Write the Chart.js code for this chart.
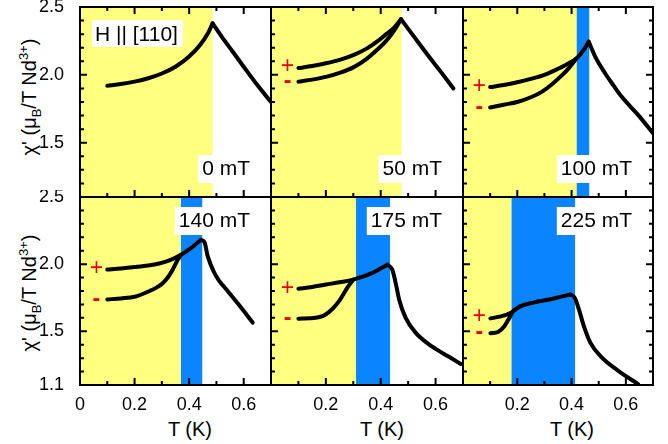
<!DOCTYPE html>
<html>
<head>
<meta charset="utf-8">
<script src="https://cdn.jsdelivr.net/npm/chart.js@4.4.1/dist/chart.umd.min.js"></script>
<style>
body { margin: 0; background: #fff; }
#fig { position: relative; width: 668px; height: 444px; overflow: hidden; font-family: "Liberation Sans", Arial, sans-serif; color: #000; }
#fig canvas { position: absolute; }
.ytitle { position: absolute; font-size: 20px; line-height: 1; white-space: nowrap; transform: translate(-50%, -50%) rotate(-90deg); }
.ytitle sub, .ytitle sup { font-size: 13px; line-height: 0; }
.xtitle { position: absolute; font-size: 20px; line-height: 1; white-space: nowrap; transform: translate(-50%, -50%); }
</style>
</head>
<body>
<div id="fig">
	<div class="ytitle" style="left:29px; top:97px">χ' (μ<sub>B</sub>/T Nd<sup>3+</sup>)</div>
	<div class="ytitle" style="left:29px; top:293px">χ' (μ<sub>B</sub>/T Nd<sup>3+</sup>)</div>
	<div class="xtitle" style="left:190px; top:429px">T (K)</div>
	<div class="xtitle" style="left:382px; top:429px">T (K)</div>
	<div class="xtitle" style="left:572px; top:429px">T (K)</div>
</div>
<script>
const fields = ['0 mT', '50 mT', '100 mT', '140 mT', '175 mT', '225 mT']
// phase regions in K: yellow from 0 to yellowEnd, blue from yellowEnd to blueEnd
const yellowEnd = [0.486, 0.476, 0.419, 0.370, 0.310, 0.179]
const blueEnd = [null, null, 0.465, 0.448, 0.434, 0.413]
const xLabels = [0, 0.2, 0.4, 0.6]
const yLabels = [1.1, 1.5, 2.0, 2.5]

// chi' vs T, pairs [T (K), chi'], "+" branch (full curve) and "-" branch (until it joins)
const up0 = [[0.10,1.92],[0.15,1.932],[0.20,1.95],[0.25,1.975],[0.30,2.01],[0.35,2.06],[0.40,2.135],[0.44,2.22],[0.47,2.31],[0.486,2.38],[0.52,2.28],[0.56,2.17],[0.60,2.06],[0.65,1.925],[0.70,1.80]]
const up50 = [[0.10,2.05],[0.15,2.065],[0.20,2.085],[0.25,2.11],[0.30,2.145],[0.35,2.195],[0.39,2.25],[0.42,2.30],[0.45,2.35],[0.474,2.41],[0.52,2.285],[0.57,2.15],[0.62,2.02],[0.665,1.90]]
const dn50 = [[0.10,1.95],[0.15,1.965],[0.20,1.985],[0.25,2.015],[0.30,2.055],[0.35,2.12],[0.39,2.19],[0.42,2.25],[0.45,2.33],[0.474,2.41]]
const up100 = [[0.10,1.91],[0.15,1.925],[0.20,1.945],[0.25,1.97],[0.30,2.00],[0.34,2.035],[0.38,2.075],[0.42,2.125],[0.445,2.185],[0.463,2.245],[0.487,2.135],[0.524,2.01],[0.555,1.92],[0.584,1.84],[0.645,1.705],[0.70,1.57]]
const dn100 = [[0.10,1.76],[0.15,1.78],[0.20,1.80],[0.25,1.835],[0.29,1.875],[0.33,1.935],[0.366,2.00],[0.39,2.05],[0.418,2.12]]
const up140 = [[0.10,1.96],[0.15,1.968],[0.20,1.978],[0.25,1.99],[0.29,2.005],[0.33,2.03],[0.37,2.07],[0.40,2.11],[0.443,2.18],[0.456,2.165],[0.468,2.06],[0.49,1.945],[0.51,1.875],[0.535,1.815],[0.583,1.695],[0.633,1.565]]
const dn140 = [[0.10,1.737],[0.15,1.745],[0.20,1.757],[0.255,1.80],[0.28,1.825],[0.304,1.86],[0.325,1.91],[0.34,1.96],[0.355,2.02],[0.37,2.07]]
const up175 = [[0.10,1.816],[0.15,1.83],[0.20,1.848],[0.25,1.865],[0.30,1.885],[0.37,1.935],[0.424,1.996],[0.442,1.96],[0.457,1.836],[0.467,1.737],[0.491,1.60],[0.527,1.49],[0.588,1.385],[0.649,1.31],[0.692,1.256]]
const dn175 = [[0.10,1.594],[0.163,1.60],[0.19,1.615],[0.211,1.643],[0.23,1.68],[0.248,1.724],[0.265,1.78],[0.278,1.824],[0.30,1.885]]
const up225 = [[0.101,1.596],[0.135,1.609],[0.177,1.638],[0.208,1.683],[0.256,1.712],[0.317,1.737],[0.366,1.76],[0.396,1.774],[0.412,1.749],[0.427,1.663],[0.445,1.54],[0.469,1.416],[0.511,1.305],[0.572,1.206],[0.645,1.107]]
const dn225 = [[0.101,1.485],[0.129,1.495],[0.153,1.54],[0.171,1.60],[0.183,1.645],[0.208,1.683]]

// where the red + and - markers sit
const signT = 0.06
const plusY = [null, 2.06, 1.91, 1.965, 1.82, 1.61]
const minusY = [null, 1.95, 1.76, 1.737, 1.596, 1.49]

const curves = [[up0], [up50, dn50], [up100, dn100], [up140, dn140], [up175, dn175], [up225, dn225]]

const colEdges = [80, 271, 463, 653]
const rowEdges = [7, 197, 385]
const family = '"Liberation Sans", Arial, sans-serif'
const yellow = '#ffff80'
const blue = '#0b84ff'

function near(a, b) { return Math.abs(a - b) < 1e-6 }

// split a curve at its maximum so the peak stays a sharp cusp
function splitAtPeak(d) {
	let k = 0
	for (let j = 1; j < d.length; j++) if (d[j][1] > d[k][1]) k = j
	if (k == 0 || k == d.length - 1) return [d]
	return [d.slice(0, k + 1), d.slice(k)]
}

const panelPlugin = {
	id: 'panel',
	beforeDatasetsDraw(chart, args, o) {
		let ctx = chart.ctx, a = chart.chartArea, x = chart.scales.x
		ctx.save()
		let x0 = x.getPixelForValue(0), x1 = x.getPixelForValue(o.yellow)
		ctx.fillStyle = yellow
		ctx.fillRect(x0, a.top, x1 - x0, a.bottom - a.top)
		if (o.blue != null) {
			let x2 = x.getPixelForValue(o.blue)
			ctx.fillStyle = blue
			ctx.fillRect(x1, a.top, x2 - x1, a.bottom - a.top)
		}
		ctx.restore()
	},
	afterDatasetsDraw(chart, args, o) {
		let ctx = chart.ctx, a = chart.chartArea, x = chart.scales.x, y = chart.scales.y
		ctx.save()
		ctx.strokeStyle = '#000'
		ctx.lineWidth = 2
		ctx.beginPath()
		// inward ticks
		for (let i = 1; i <= 6; i++) {
			let px = x.getPixelForValue(i / 10), len = i % 2 == 0 ? 7 : 4
			ctx.moveTo(px, a.bottom); ctx.lineTo(px, a.bottom - len)
			if (o.topTicks) { ctx.moveTo(px, a.top); ctx.lineTo(px, a.top + len) }
		}
		for (let i = 12; i <= 24; i++) {
			let py = y.getPixelForValue(i / 10), len = (i == 15 || i == 20) ? 7 : 4
			ctx.moveTo(a.left, py); ctx.lineTo(a.left + len, py)
			if (o.rightTicks) { ctx.moveTo(a.right, py); ctx.lineTo(a.right - len, py) }
		}
		ctx.stroke()
		ctx.strokeRect(a.left, a.top, a.right - a.left, a.bottom - a.top)

		// + / - markers
		ctx.fillStyle = '#e8000b'
		ctx.textAlign = 'center'
		ctx.textBaseline = 'middle'
		if (o.plus != null) {
			ctx.font = '23px ' + family
			ctx.fillText('+', x.getPixelForValue(signT), y.getPixelForValue(o.plus))
			ctx.font = 'bold 23px ' + family
			ctx.fillText('-', x.getPixelForValue(signT), y.getPixelForValue(o.minus))
		}

		// field label in a white box
		ctx.font = '21px ' + family
		ctx.textAlign = 'left'
		ctx.textBaseline = 'alphabetic'
		let w = ctx.measureText(o.field).width
		let tx = a.right - 21 - w
		let base = o.labelTop ? a.top + 30 : a.bottom - 22
		ctx.fillStyle = '#fff'
		ctx.fillRect(tx - 4, base - 20, w + 7, 28)
		ctx.fillStyle = '#000'
		ctx.fillText(o.field, tx, base)

		if (o.note) {
			let nw = ctx.measureText(o.note).width
			ctx.fillStyle = '#fff'
			ctx.fillRect(a.left + 12, a.top + 13, nw + 8, 27)
			ctx.fillStyle = '#000'
			ctx.fillText(o.note, a.left + 15, a.top + 34)
		}
		ctx.restore()
	}
}

const fig = document.getElementById('fig')

for (let i = 0; i < 6; i++) {
	let c = i % 3, r = Math.floor(i / 3)
	let xh = r == 1 ? 40 : 2
	let w = colEdges[c + 1] - colEdges[c] + 80 + 15
	let h = rowEdges[r + 1] - rowEdges[r] + 7 + xh
	let cv = document.createElement('canvas')
	cv.width = w
	cv.height = h
	cv.style.left = (colEdges[c] - 80) + 'px'
	cv.style.top = (rowEdges[r] - 7) + 'px'
	fig.appendChild(cv)

	let datasets = []
	curves[i].forEach(curve => {
		splitAtPeak(curve).forEach(d => datasets.push({
			data: d,
			borderColor: '#000',
			borderWidth: 4,
			borderCapStyle: 'round',
			borderJoinStyle: 'round',
			pointRadius: 0,
			cubicInterpolationMode: 'monotone',
			fill: false,
			clip: 0
		}))
	})

	new Chart(cv, {
		type: 'line',
		data: { datasets: datasets },
		plugins: [panelPlugin],
		options: {
			responsive: false,
			animation: false,
			devicePixelRatio: 1,
			layout: { padding: { left: 0, top: 7, right: 15, bottom: 0 } },
			plugins: {
				legend: { display: false },
				tooltip: { enabled: false },
				panel: {
					yellow: yellowEnd[i],
					blue: blueEnd[i],
					plus: plusY[i],
					minus: minusY[i],
					field: fields[i],
					labelTop: r == 1,
					topTicks: r == 0,
					rightTicks: c == 2,
					note: i == 0 ? 'H || [110]' : null
				}
			},
			scales: {
				x: {
					type: 'linear',
					min: 0,
					max: 0.7,
					grid: { display: false },
					border: { display: false },
					ticks: {
						display: r == 1,
						stepSize: 0.1,
						autoSkip: false,
						maxRotation: 0,
						padding: 1,
						color: '#000',
						font: { size: 18, family: family },
						callback: v => {
							if (c > 0 && near(v, 0)) return ''
							return xLabels.some(t => near(t, v)) ? String(Math.round(v * 10) / 10) : ''
						}
					},
					afterFit: s => { s.height = xh; s.paddingLeft = 0; s.paddingRight = 0 }
				},
				y: {
					type: 'linear',
					min: 1.1,
					max: 2.5,
					grid: { display: false },
					border: { display: false },
					ticks: {
						display: c == 0,
						stepSize: 0.1,
						autoSkip: false,
						padding: 8,
						color: '#000',
						font: { size: 18, family: family },
						callback: v => {
							if (r == 0 && near(v, 1.1)) return ''
							return yLabels.some(t => near(t, v)) ? v.toFixed(1) : ''
						}
					},
					afterFit: s => { s.width = 80; s.paddingTop = 0; s.paddingBottom = 0 }
				}
			}
		}
	})
}
</script>
</body>
</html>
